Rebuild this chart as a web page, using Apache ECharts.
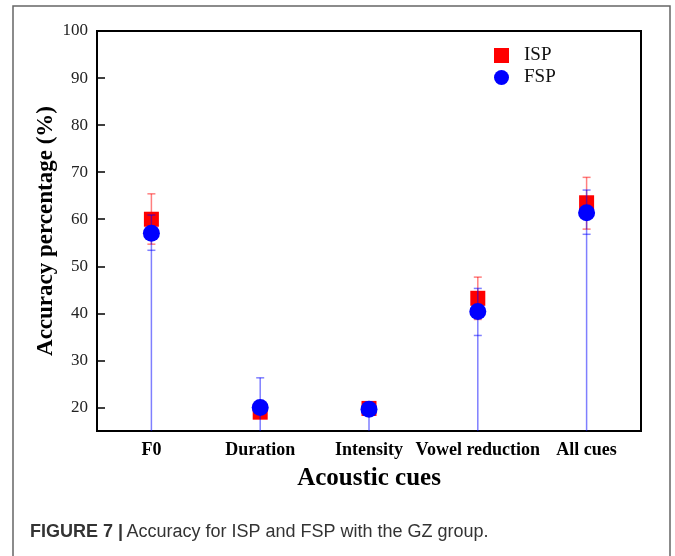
<!DOCTYPE html>
<html>
<head>
<meta charset="utf-8">
<script src="https://cdn.jsdelivr.net/npm/echarts@6/dist/echarts.min.js"></script>
<style>
  html, body { margin: 0; padding: 0; background: #fff; }
  #main { width: 675px; height: 556px; }
</style>
</head>
<body>
<div id="main"></div>
<script>
const cues = ["F0", "Duration", "Intensity", "Vowel reduction", "All cues"];
const ispMean = [60, 19, 19.8, 43.2, 63.5];
const ispLow = [54.7, 18.4, 19.3, 38.7, 57.9];
const ispHigh = [65.4, 19.6, 20.3, 47.7, 68.9];
const fspMean = [57, 20, 19.6, 40.4, 61.4];
const fspLow = [53.4, 19.4, 19.2, 35.3, 56.8];
const fspHigh = [60.9, 26.3, 20, 45.3, 66.2];

const serif = "Liberation Serif";
const chart = echarts.init(document.getElementById("main"));

// error bar drawer; fromBottom draws the stem down to the x axis
function errorBars(low, high, color, fromBottom) {
  return function (params, api) {
    const i = params.dataIndex;
    const x = api.coord([i, 0])[0];
    const top = api.coord([i, high[i]])[1];
    const bot = api.coord([i, low[i]])[1];
    const base = fromBottom ? params.coordSys.y + params.coordSys.height : bot;
    const style = { stroke: color, lineWidth: 1.5 };
    return {
      type: "group",
      children: [
        { type: "line", shape: { x1: x, y1: base, x2: x, y2: top }, style: style },
        { type: "line", shape: { x1: x - 4, y1: top, x2: x + 4, y2: top }, style: style },
        { type: "line", shape: { x1: x - 4, y1: bot, x2: x + 4, y2: bot }, style: style }
      ]
    };
  };
}

const option = {
  animation: false,
  grid: {
    left: 97, top: 31, right: 34, bottom: 125,
    show: true, borderColor: "#000", borderWidth: 2
  },
  legend: {
    orient: "vertical",
    left: 489, top: 41,
    itemWidth: 15, itemHeight: 15, itemGap: 3,
    textStyle: { fontFamily: serif, fontSize: 19, color: "#111", padding: [0, 0, 0, 10] },
    data: [
      { name: "ISP", icon: "rect", itemStyle: { color: "#ff0000" } },
      { name: "FSP", icon: "circle", itemStyle: { color: "#0000ff" } }
    ]
  },
  xAxis: {
    type: "category",
    data: cues,
    boundaryGap: true,
    name: "Acoustic cues",
    nameLocation: "middle",
    nameGap: 35,
    nameTextStyle: { fontFamily: serif, fontSize: 25, fontWeight: "bold", color: "#000" },
    axisLine: { lineStyle: { color: "#000", width: 2 } },
    axisTick: { inside: true, length: 5, lineStyle: { color: "#000", width: 1.5 } },
    axisLabel: { fontFamily: serif, fontSize: 18, fontWeight: "bold", color: "#000", margin: 10, interval: 0 },
    splitLine: { show: false }
  },
  yAxis: {
    type: "value",
    min: 15, max: 100,
    splitNumber: 8,
    name: "Accuracy percentage (%)",
    nameLocation: "middle",
    nameGap: 39,
    nameMoveOverlap: false,
    nameTextStyle: { fontFamily: serif, fontSize: 23, fontWeight: "bold", color: "#000" },
    axisLine: { show: true, lineStyle: { color: "#000", width: 2 } },
    axisTick: { show: true, inside: true, length: 8, lineStyle: { color: "#000", width: 1.5 } },
    axisLabel: { fontFamily: serif, fontSize: 17, color: "#222", margin: 9, showMinLabel: false },
    splitLine: { show: false }
  },
  series: [
    {
      name: "ISP",
      type: "custom",
      renderItem: errorBars(ispLow, ispHigh, "rgba(255,0,0,0.5)", false),
      itemStyle: { color: "#ff0000" },
      data: cues.map((c, i) => i),
      z: 1, silent: true
    },
    {
      name: "ISP",
      type: "scatter",
      symbol: "rect",
      symbolSize: 15,
      itemStyle: { color: "#ff0000", opacity: 1 },
      data: ispMean,
      z: 2
    },
    {
      name: "FSP",
      type: "custom",
      renderItem: errorBars(fspLow, fspHigh, "rgba(0,0,255,0.5)", true),
      itemStyle: { color: "#0000ff" },
      data: cues.map((c, i) => i),
      z: 3, silent: true
    },
    {
      name: "FSP",
      type: "scatter",
      symbol: "circle",
      symbolSize: 17,
      itemStyle: { color: "#0000ff", opacity: 1 },
      data: fspMean,
      z: 4
    }
  ],
  graphic: [
    {
      type: "polyline",
      shape: { points: [[13, 560], [13, 6], [670, 6], [670, 560]] },
      style: { stroke: "#666", lineWidth: 1.5, fill: null }
    },
    {
      type: "text",
      left: 30, top: 523,
      style: {
        rich: {
          b: { fontFamily: "Liberation Sans", fontSize: 18, fontWeight: "bold", fill: "#333" },
          n: { fontFamily: "Liberation Sans", fontSize: 18, fill: "#333" }
        },
        text: "{b|FIGURE 7 |} {n|Accuracy for ISP and FSP with the GZ group.}"
      }
    }
  ]
};

chart.setOption(option);
window.onresize = function () {
  chart.resize();
};
</script>
</body>
</html>
